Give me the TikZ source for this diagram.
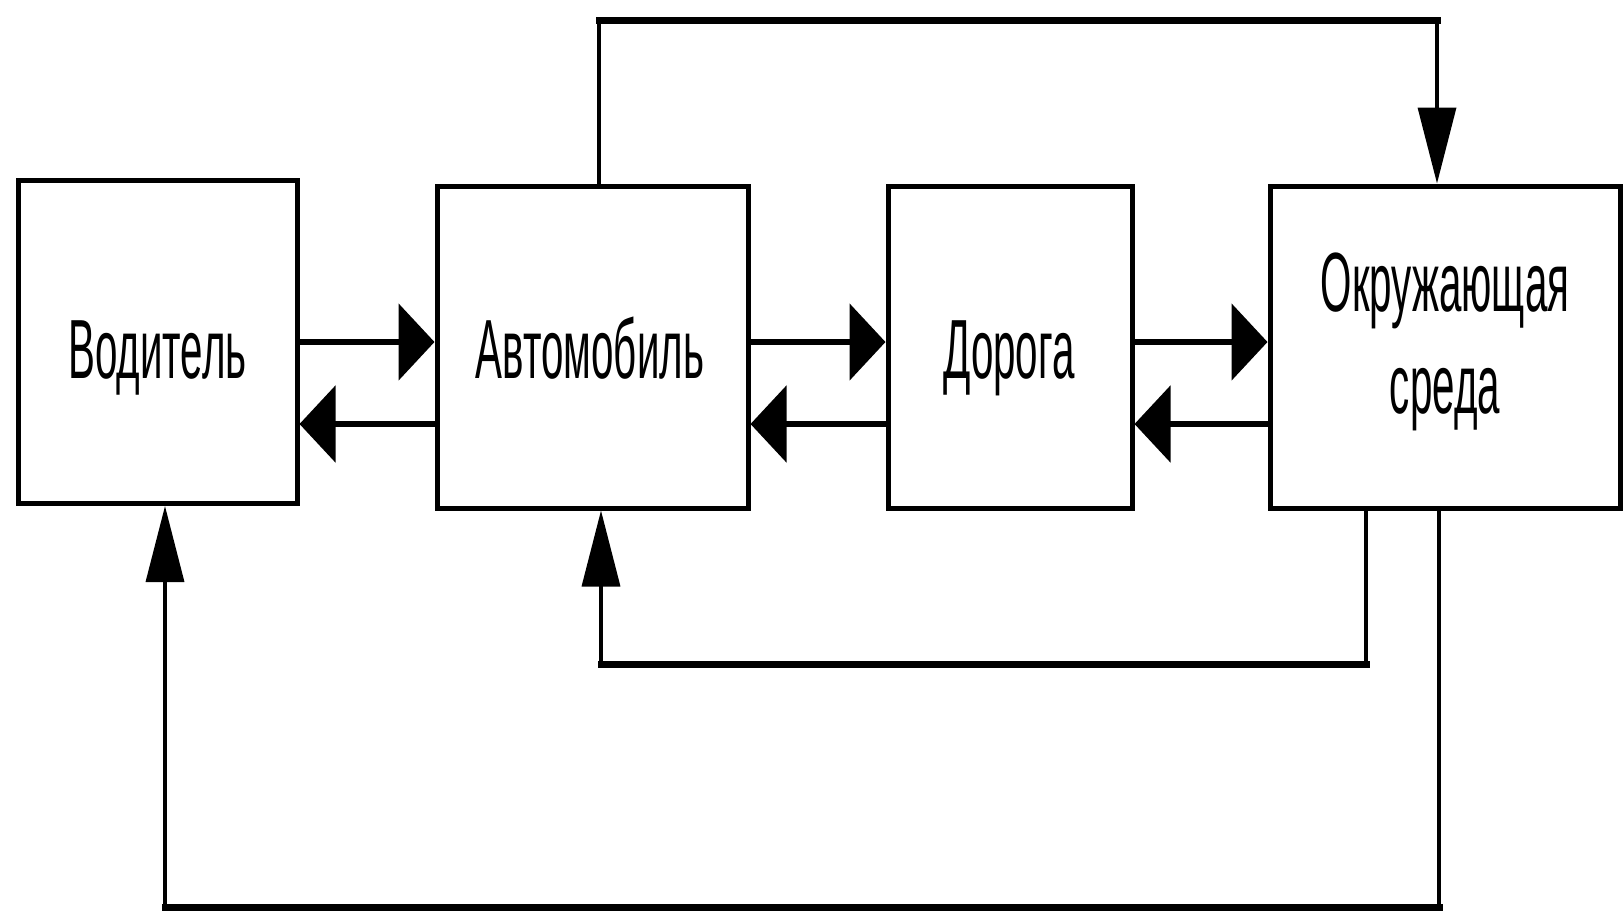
\documentclass[tikz,border=0pt]{standalone}
\usepackage{fontspec}
\setmainfont{Liberation Sans}
\usepackage{graphicx}
\usetikzlibrary{arrows.meta}
\tikzset{
  box/.style={draw=black, line width=5pt, fill=white, inner sep=0pt},
  lbl/.style={inner sep=0pt, anchor=base, font=\fontsize{84}{100}\selectfont},
  harrow/.style={line width=6pt, -{Triangle[length=36pt,width=76pt]}},
  varrow/.style={line width=3.5pt, -{Triangle[length=76pt,width=38pt]}},
  hseg/.style={line width=7pt, line cap=rect},
}
\newcommand{\nar}[1]{\scalebox{0.48}[1]{#1}}
\begin{document}
\begin{tikzpicture}[x=1pt,y=-1pt]
\useasboundingbox[fill=white] (0,0) rectangle (1624,916);
% boxes
\node[box, minimum width=279pt, minimum height=323pt] (drv) at (157.5,342) {};
\node[box, minimum width=311pt, minimum height=322pt] (car) at (592.5,347) {};
\node[box, minimum width=244pt, minimum height=322pt] (road) at (1010,347) {};
\node[box, minimum width=350pt, minimum height=322pt] (env) at (1445,347) {};
% labels
\node[lbl] (drvt) at (157.5,378) {\nar{Водитель}};
\node[lbl] (cart) at (590,378) {\nar{Автомобиль}};
\node[lbl] (roadt) at (1009,378) {\nar{Дорога}};
\node[lbl] (envt1) at (1445,311) {\nar{Окружающая}};
\node[lbl] (envt2) at (1445,413) {\nar{среда}};
% reference coordinates
\coordinate (ya) at (0,342);
\coordinate (yb) at (0,424);
\coordinate (tl) at (599,20);
\coordinate (tr) at (1437,20);
\coordinate (il) at (601,664);
\coordinate (ir) at (1366,664);
\coordinate (ol) at (165,907);
\coordinate (or) at (1439,907);
% horizontal arrows
\draw[harrow] (drv.east |- ya) -- (car.west |- ya);
\draw[harrow] (car.west |- yb) -- (drv.east |- yb);
\draw[harrow] (car.east |- ya) -- (road.west |- ya);
\draw[harrow] (road.west |- yb) -- (car.east |- yb);
\draw[harrow] (road.east |- ya) -- (env.west |- ya);
\draw[harrow] (env.west |- yb) -- (road.east |- yb);
% top loop
\draw[varrow] (car.north -| tl) -- (tl) -- (tr) -- (env.north -| tr);
\draw[hseg] (tl) -- (tr);
% inner bottom loop
\draw[varrow] (env.south -| ir) -- (ir) -- (il) -- (car.south -| il);
\draw[hseg] (ir) -- (il);
% outer bottom loop
\draw[varrow] (env.south -| or) -- (or) -- (ol) -- (drv.south -| ol);
\draw[hseg] (or) -- (ol);
\end{tikzpicture}
\end{document}
